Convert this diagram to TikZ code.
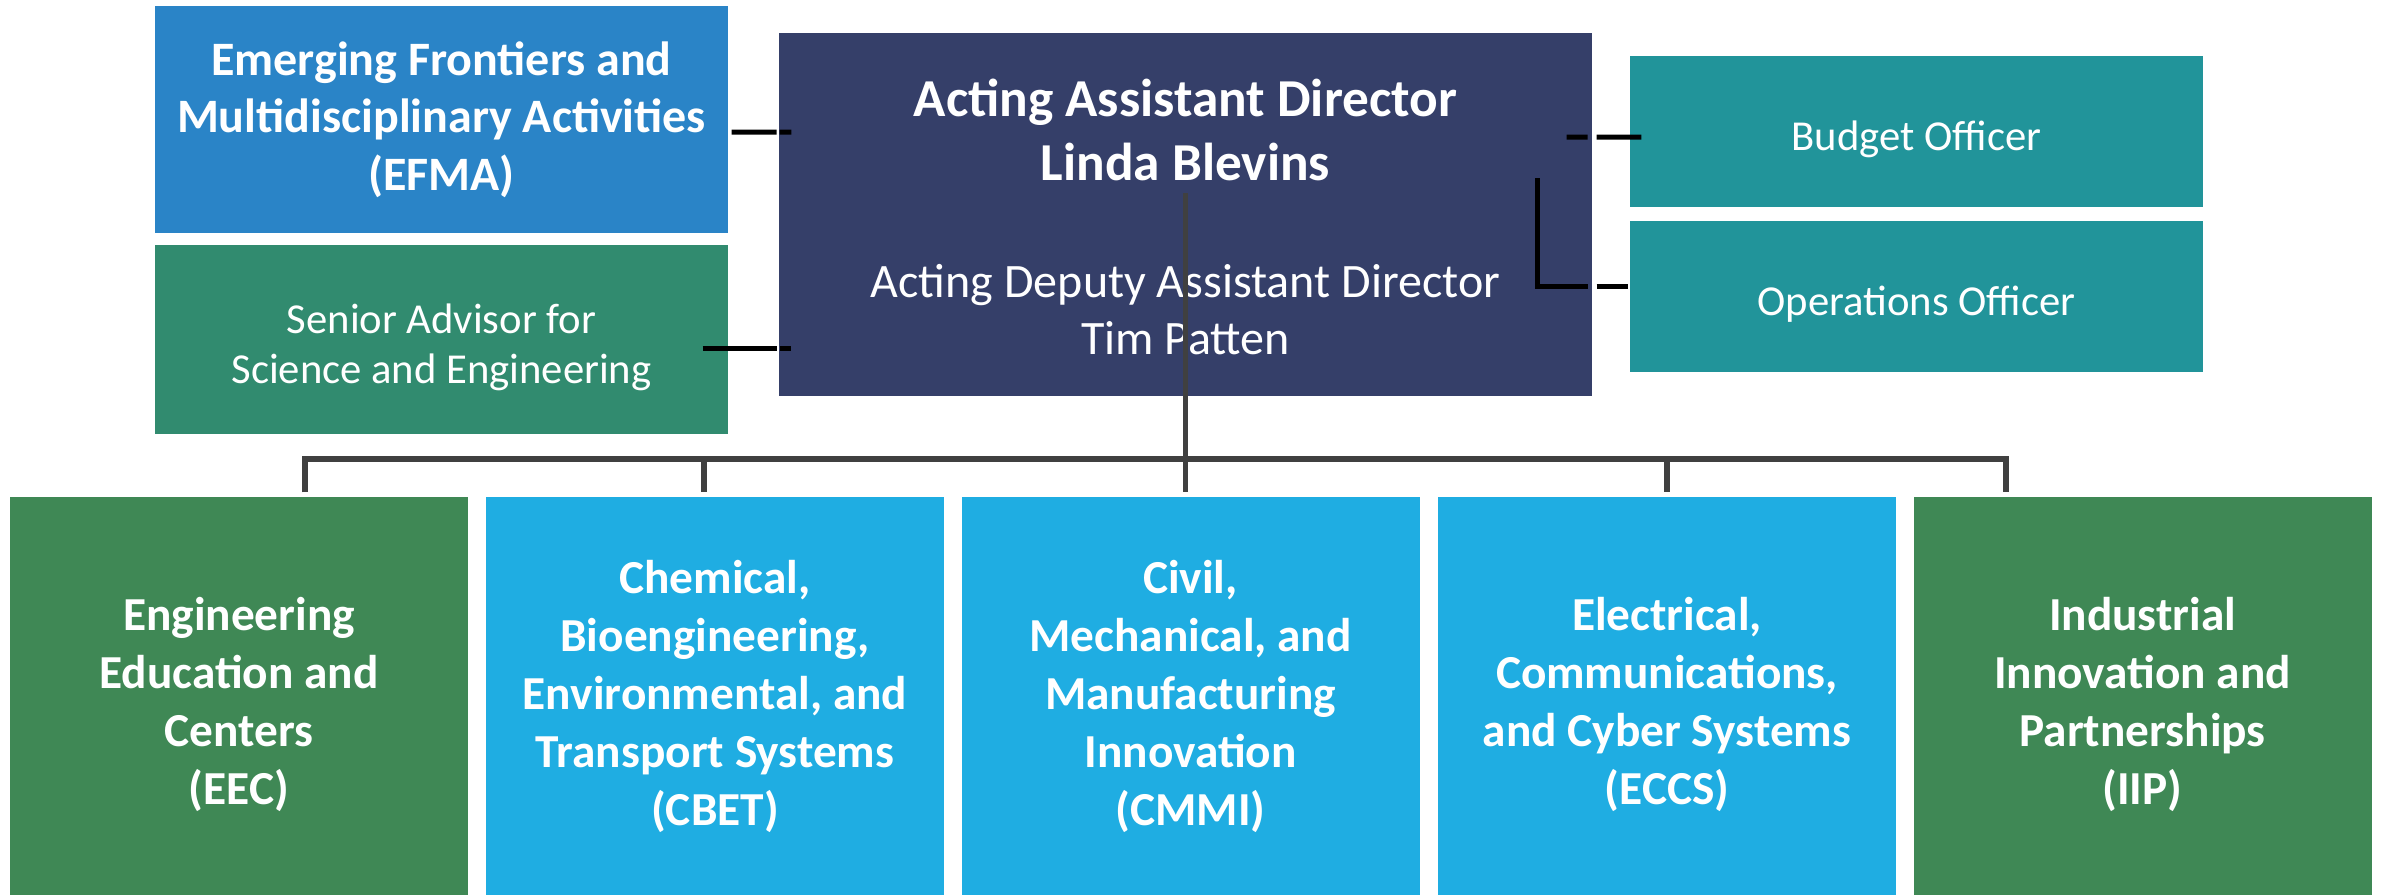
\documentclass[tikz,border=0pt]{standalone}
\usepackage{fontspec}
\setmainfont{Carlito}
\usetikzlibrary{calc}
\newcommand{\tstrut}{\rule{0pt}{1.05em}}
\begin{document}
\begin{tikzpicture}[x=0.3pt,y=-0.3pt]
	\tikzstyle{unit} = [rectangle,inner sep=0pt,text=white,align=center]
	\tikzstyle{division} = [unit,minimum width=458*\u,minimum height=398*\u,font=\fontsize{14.2}{17.4}\selectfont\bfseries]
	\tikzstyle{office} = [unit,fill=teal,minimum width=573*\u,minimum height=151*\u,font=\fontsize{12.8}{15.6}\selectfont]
	\tikzstyle{link} = [black,line width=1.5pt]
	\tikzstyle{bus} = [linegray,line width=1.7pt]

	\def\u{0.3pt}
	\definecolor{efmablue}{HTML}{2A84C7}
	\definecolor{sagreen}{HTML}{318B6F}
	\definecolor{dirnavy}{HTML}{353F69}
	\definecolor{teal}{HTML}{21949A}
	\definecolor{divgreen}{HTML}{3F8855}
	\definecolor{divblue}{HTML}{1FADE2}
	\definecolor{linegray}{HTML}{404040}

	\useasboundingbox (0,0) rectangle (2387,895);

	% NODES %
	\node[unit,fill=efmablue,minimum width=573*\u,minimum height=227*\u,font=\fontsize{14.4}{17.3}\selectfont\bfseries] (efma) at (441.5,119.5) {Emerging Frontiers and\\Multidisciplinary Activities\\(EFMA)};
	\node[unit,fill=sagreen,minimum width=573*\u,minimum height=189*\u,font=\fontsize{12.8}{15.1}\selectfont] (sa) at (441.5,339.5) {\tstrut Senior Advisor for\\Science and Engineering};

	\node[unit,fill=dirnavy,minimum width=813*\u,minimum height=363*\u] (dir) at (1185.5,214.5) {};
	\node[unit,font=\fontsize{16}{19}\selectfont\bfseries] (ad) at (1185.5,130) {Acting Assistant Director\\Linda Blevins};
	\node[unit,font=\fontsize{14.4}{17.2}\selectfont] (dad) at (1185.5,309.5) {Acting Deputy Assistant Director\\Tim Patten};

	\node[office] (budget) at (1916.5,131.5) {\tstrut Budget Officer};
	\node[office] (ops) at (1916.5,296.5) {\tstrut Operations Officer};

	\node[division,fill=divgreen] (eec) at (239,696) {\tstrut Engineering\\Education and\\Centers\\(EEC)};
	\node[division,fill=divblue] (cbet) at (715,696) {Chemical,\\Bioengineering,\\Environmental, and\\Transport Systems\\(CBET)};
	\node[division,fill=divblue] (cmmi) at (1190.5,696) {Civil,\\Mechanical, and\\Manufacturing\\Innovation\\(CMMI)};
	\node[division,fill=divblue] (eccs) at (1667,696) {\tstrut Electrical,\\Communications,\\and Cyber Systems\\(ECCS)};
	\node[division,fill=divgreen] (iip) at (2142.5,696) {\tstrut Industrial\\Innovation and\\Partnerships\\(IIP)};

	\coordinate (tapeec) at (305,459);
	\coordinate (tapcbet) at (704,459);
	\coordinate (tapeccs) at (1667,459);
	\coordinate (tapiip) at (2006,459);

	% EDGES %
	%staff
	\draw[link,dash pattern=on 13.5pt off 0.9pt on 3.9pt] ([shift={(3,12.5)}]efma.east) -- ([shift={(13,-82.5)}]dir.west);
	\draw[link,dash pattern=on 22.2pt off 0.9pt on 3.9pt] ([shift={(-26,8.5)}]sa.east) -- ([shift={(13,133.5)}]dir.west);
	\draw[link,dash pattern=on 6.3pt off 2.7pt on 13.8pt] ([shift={(-26,-77.5)}]dir.east) -- ([shift={(12,5.5)}]budget.west);
	\draw[link,dash pattern=on 47.4pt off 2.7pt on 9.9pt] ([shift={(-55,-36.5)}]dir.east) |- ([shift={(-1,-10.5)}]ops.west);
	%divisions
	\draw[bus] ([shift={(0,-21.5)}]dir.center) -- ($(dir.center |- cmmi.north)+(0,-4)$);
	\draw[bus] ($(tapeec |- eec.north)+(0,-4)$) -- (tapeec) -- (tapiip) -- ($(tapiip |- iip.north)+(0,-4)$);
	\draw[bus] (tapcbet) -- ($(tapcbet |- cbet.north)+(0,-4)$);
	\draw[bus] (tapeccs) -- ($(tapeccs |- eccs.north)+(0,-4)$);
\end{tikzpicture}
\end{document}
